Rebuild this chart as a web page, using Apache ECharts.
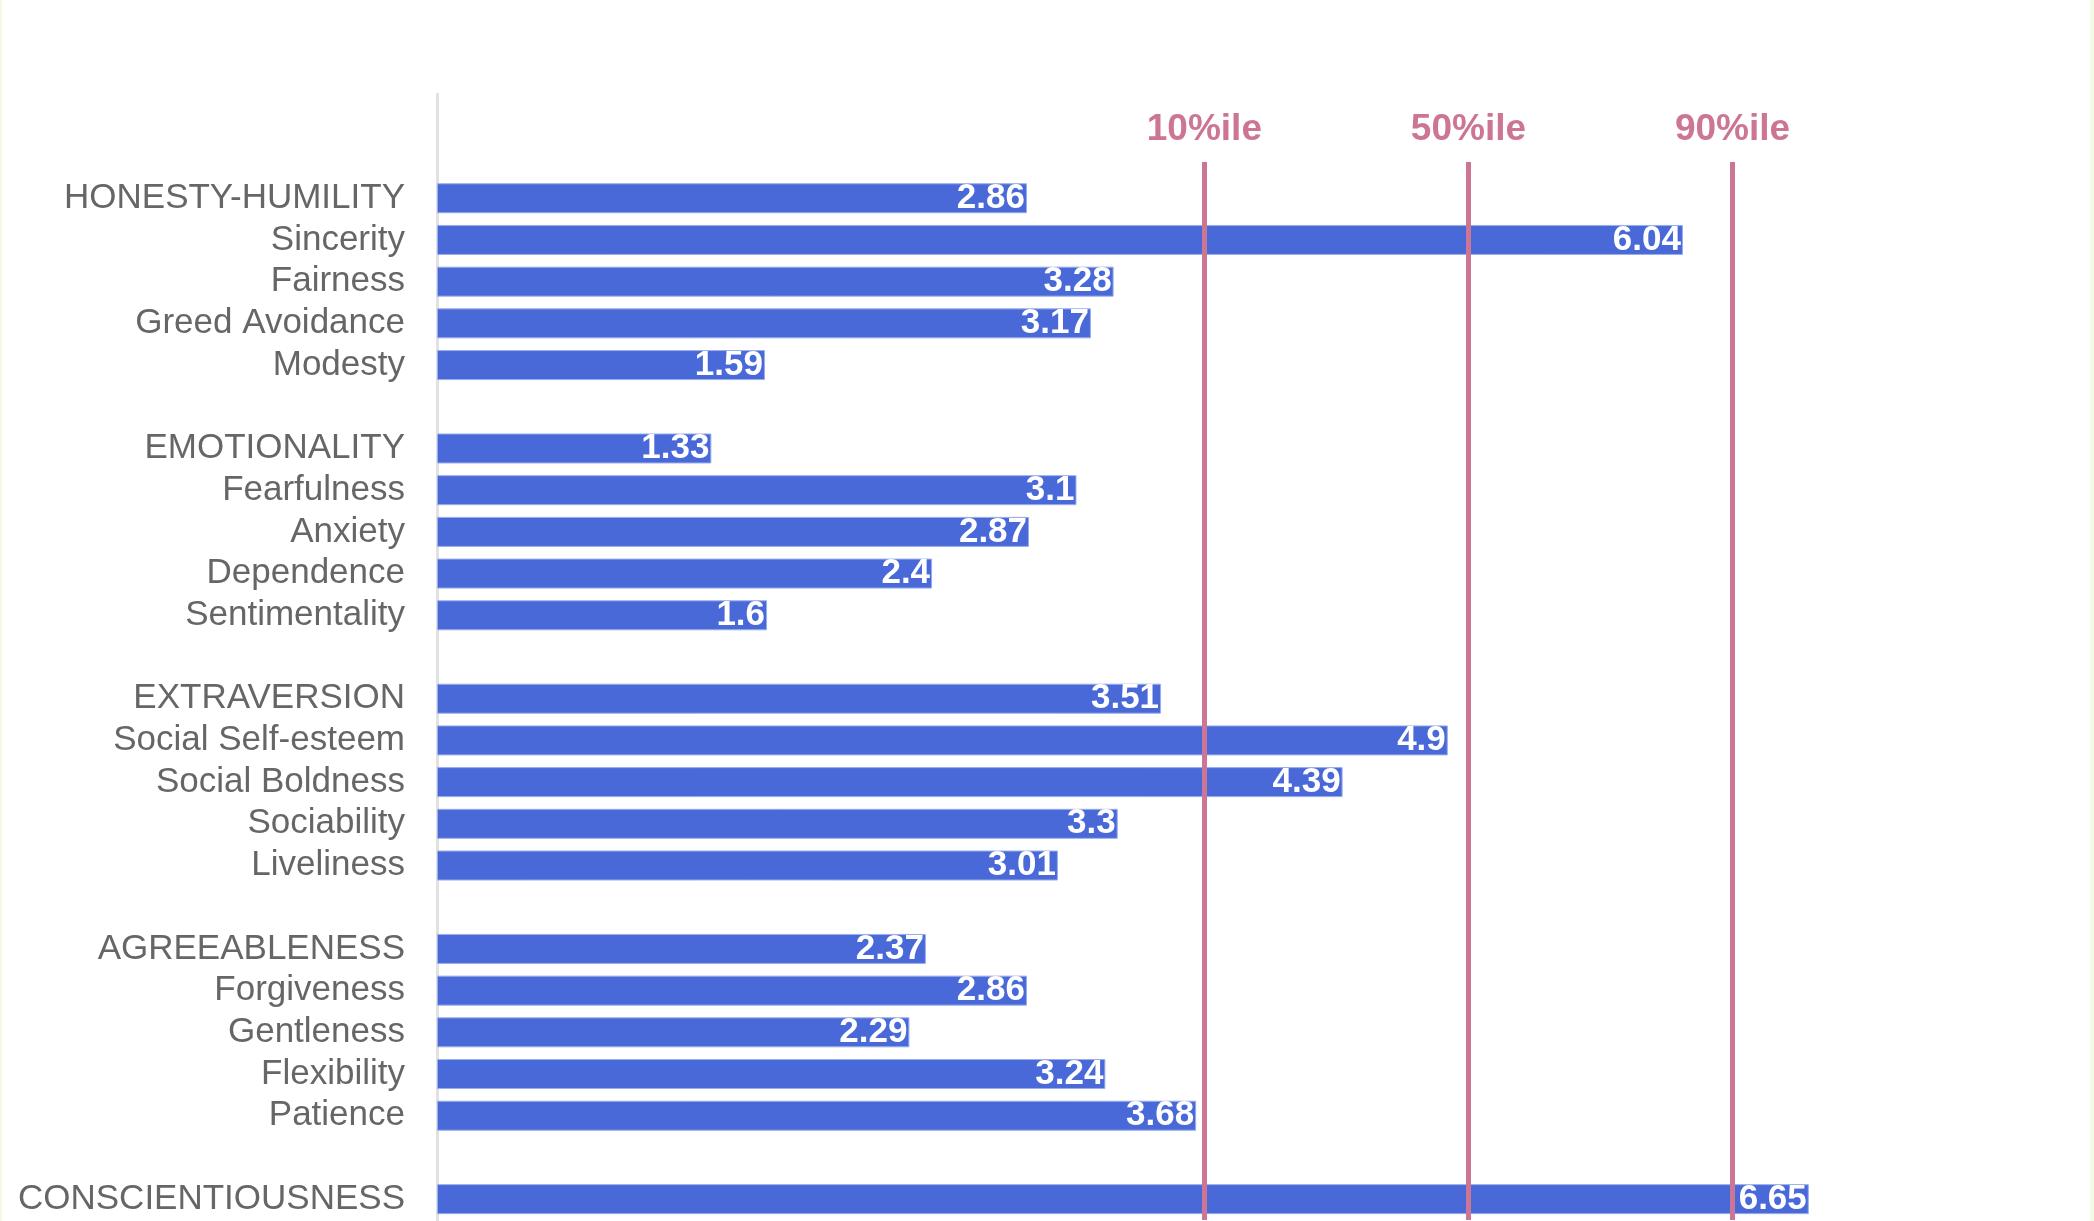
<!DOCTYPE html>
<html>
<head>
<meta charset="utf-8">
<script src="https://cdn.jsdelivr.net/npm/echarts@6/dist/echarts.min.js"></script>
<style>
  html, body { margin: 0; padding: 0; background: #ffffff; }
  #c { position: absolute; left: 0; top: 0; width: 2094px; height: 1221px; }
  .edge { position: absolute; top: 0; height: 1221px; background: #F1FBE3; z-index: 5; }
</style>
</head>
<body>
<div id="c"></div>
<div class="edge" style="left:0;width:2px;"></div>
<div class="edge" style="right:0;width:4px;"></div>
<script>
// Categories (blank strings are spacer rows)
const categories = [
  ' ', '  ',
  'HONESTY-HUMILITY', 'Sincerity', 'Fairness', 'Greed Avoidance', 'Modesty',
  '   ',
  'EMOTIONALITY', 'Fearfulness', 'Anxiety', 'Dependence', 'Sentimentality',
  '    ',
  'EXTRAVERSION', 'Social Self-esteem', 'Social Boldness', 'Sociability', 'Liveliness',
  '     ',
  'AGREEABLENESS', 'Forgiveness', 'Gentleness', 'Flexibility', 'Patience',
  '      ',
  'CONSCIENTIOUSNESS'
];
const scores = [
  null, null,
  2.86, 6.04, 3.28, 3.17, 1.59,
  null,
  1.33, 3.1, 2.87, 2.4, 1.6,
  null,
  3.51, 4.9, 4.39, 3.3, 3.01,
  null,
  2.37, 2.86, 2.29, 3.24, 3.68,
  null,
  6.65
];
const percentileNames = ['10%ile', '50%ile', '90%ile'];
const percentileValues = [3.72, 5.0, 6.28];

const slotCount = categories.length;
const lineStartSlot = 1.63;

const chart = echarts.init(document.getElementById('c'), null, { renderer: 'canvas' });

const markData = percentileValues.map((v, i) => [
  { coord: [v, lineStartSlot], name: percentileNames[i] },
  { coord: [v, slotCount] }
]);

chart.setOption({
  animation: false,
  backgroundColor: '#ffffff',
  grid: { left: 437, right: 213, top: 94, bottom: 1, containLabel: false },
  xAxis: { type: 'value', min: 0, max: 7, show: false },
  yAxis: [
    {
      type: 'category',
      data: categories,
      inverse: true,
      axisLine: { show: true, lineStyle: { color: '#E2E2E2', width: 3 } },
      axisTick: { show: false },
      splitLine: { show: false },
      axisLabel: {
        color: '#666666',
        fontSize: 35,
        fontFamily: 'Liberation Sans, Arial, sans-serif',
        margin: 32,
        interval: 0
      }
    },
    {
      type: 'value',
      min: 0,
      max: slotCount,
      inverse: true,
      show: false
    }
  ],
  series: [
    {
      type: 'bar',
      data: scores,
      barWidth: 30,
      z: 2,
      silent: true,
      itemStyle: { color: '#4A69D9', borderColor: '#9AAEEC', borderWidth: 1 },
      label: {
        show: true,
        position: 'insideRight',
        distance: 2,
        color: '#ffffff',
        fontSize: 35,
        fontWeight: 'bold',
        fontFamily: 'Liberation Sans, Arial, sans-serif',
        formatter: p => (p.value == null ? '' : String(p.value))
      }
    },
    {
      type: 'scatter',
      xAxisIndex: 0,
      yAxisIndex: 1,
      data: [],
      z: 4,
      silent: true,
      markLine: {
        silent: true,
        symbol: ['none', 'none'],
        animation: false,
        lineStyle: { color: '#CD7595', width: 5, type: 'solid' },
        label: {
          show: true,
          position: 'start',
          distance: 14,
          formatter: p => p.name,
          color: '#CD7595',
          fontSize: 37,
          fontWeight: 'bold',
          fontFamily: 'Liberation Sans, Arial, sans-serif'
        },
        emphasis: { disabled: true },
        data: markData
      }
    }
  ]
});
</script>
</body>
</html>
